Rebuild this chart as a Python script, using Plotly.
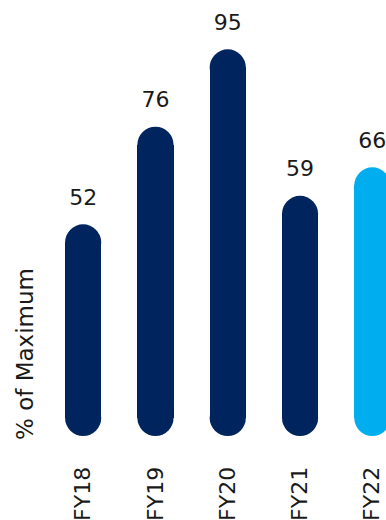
import plotly.graph_objects as go

categories = ["FY18", "FY19", "FY20", "FY21", "FY22"]
values = [52, 76, 95, 59, 66]
colors = ["#00245D", "#00245D", "#00245D", "#00245D", "#00AEEF"]
y_title = "% of Maximum"

W, H = 386, 520
ml, mr, mt, mb = 47, 0, 9, 84
plot_w = W - ml - mr
plot_h = H - mt - mb
cat_px = 72.3
x_range = [-0.5, -0.5 + plot_w / cat_px]
ppu = 4.07
y_range = [0, plot_h / ppu]
bar_w = 0.5
bar_px = bar_w * cat_px
r = (bar_px / 2) / ppu

fig = go.Figure()
fig.add_trace(go.Bar(
    x=categories, y=[v - 2 * r for v in values], base=[r] * len(values),
    width=bar_w, marker=dict(color=colors, line=dict(width=0)),
    hoverinfo="skip", showlegend=False,
))
for yy in ([r] * len(values), [v - r for v in values]):
    fig.add_trace(go.Scatter(
        x=categories, y=yy, mode="markers",
        marker=dict(size=bar_px, color=colors, line=dict(width=0), symbol="circle"),
        hoverinfo="skip", showlegend=False, cliponaxis=False,
    ))
fig.add_trace(go.Scatter(
    x=categories, y=[v + 25 / ppu for v in values], mode="text",
    text=[str(v) for v in values], textposition="middle center",
    textfont=dict(size=22, color="#1a1a1a"),
    hoverinfo="skip", showlegend=False, cliponaxis=False,
))

fig.add_annotation(
    text=y_title, textangle=-90, xref="paper", yref="paper",
    x=(25 - ml) / plot_w, y=(H - mb - 354) / plot_h,
    xanchor="center", yanchor="middle", showarrow=False,
    font=dict(size=23, color="#1a1a1a"),
)

fig.update_layout(
    width=W, height=H, margin=dict(l=ml, r=mr, t=mt, b=mb),
    plot_bgcolor="white", paper_bgcolor="white",
    font=dict(family="DejaVu Sans", color="#1a1a1a"),
    bargap=0,
    xaxis=dict(range=x_range, showgrid=False, zeroline=False, showline=False,
               tickangle=-90, tickfont=dict(size=22), ticks="outside",
               ticklen=21, tickcolor="rgba(0,0,0,0)", fixedrange=True),
    yaxis=dict(range=y_range, visible=False, showgrid=False, zeroline=False),
)
fig.write_html("out.html")
